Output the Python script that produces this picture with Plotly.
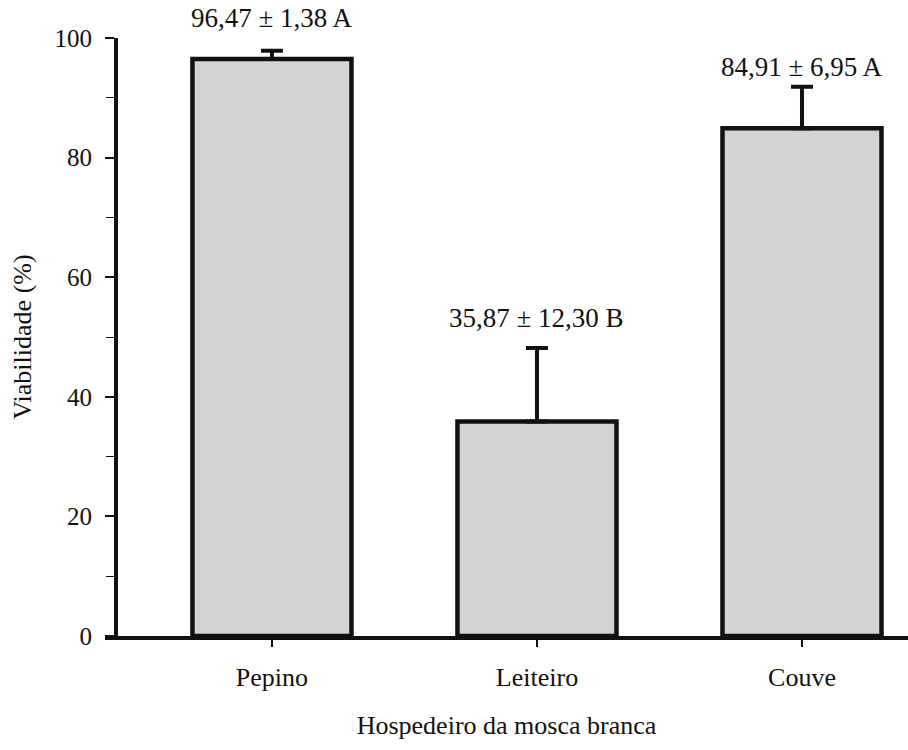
import plotly.graph_objects as go

categories = ["Pepino", "Leiteiro", "Couve"]
means = [96.47, 35.87, 84.91]
sds = [1.38, 12.30, 6.95]
letters = ["A", "B", "A"]
y_ticks = [0, 20, 40, 60, 80, 100]

def fmt(v):
    return f"{v:.2f}".replace(".", ",")

labels = [f"{fmt(m)} ± {fmt(s)} {l}" for m, s, l in zip(means, sds, letters)]
label_shift = [33, 30, 20]

font = dict(family="Liberation Serif", size=26, color="#111111")
afont = dict(family="Liberation Serif", size=27, color="#111111")
tfont = dict(family="Liberation Serif", size=25, color="#111111")

fig = go.Figure()
fig.add_trace(go.Bar(
    x=list(range(len(categories))), y=means,
    width=0.6,
    marker=dict(color="#d3d3d3", line=dict(color="#111111", width=4.5)),
    error_y=dict(type="data", array=sds, arrayminus=[0]*len(sds), symmetric=False,
                 color="#111111", thickness=4, width=11),
))

for i, (m, s, t) in enumerate(zip(means, sds, labels)):
    fig.add_annotation(x=i, y=m + s, text=t, showarrow=False, yanchor="middle",
                       yshift=label_shift[i], font=afont)

fig.update_layout(
    width=908, height=750,
    margin=dict(l=105, r=0, t=38, b=114),
    paper_bgcolor="white", plot_bgcolor="white",
    showlegend=False,
    font=font,
    bargap=0.4,
)
fig.update_xaxes(
    range=[-0.63, 2.4],
    tickmode="array", tickvals=list(range(len(categories))), ticktext=categories,
    showline=True, linecolor="#111111", linewidth=4,
    ticks="outside", ticklen=7, tickwidth=1.5, tickcolor="#111111",
    showgrid=False, zeroline=False,
    ticklabelstandoff=8,
    title=dict(text="Hospedeiro da mosca branca", font=font, standoff=26),
    tickfont=font,
)
fig.update_yaxes(
    range=[0, 100],
    anchor="free", position=0.0137,
    tickmode="array", tickvals=y_ticks,
    showline=True, linecolor="#111111", linewidth=4,
    ticks="outside", ticklen=9, tickwidth=1.5, tickcolor="#111111",
    minor=dict(dtick=10, ticks="outside", ticklen=8, tickwidth=1.2, tickcolor="#111111"),
    showgrid=False, zeroline=False,
    ticklabelstandoff=8,
    title=dict(text="Viabilidade (%)", font=font, standoff=14),
    tickfont=tfont,
)

fig.write_html("out.html")
